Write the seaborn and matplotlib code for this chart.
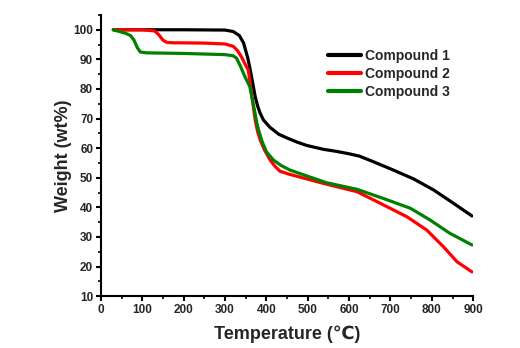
import numpy as np
import pandas as pd
import matplotlib
matplotlib.use("Agg")
import matplotlib.pyplot as plt
import seaborn as sns
from matplotlib.ticker import MultipleLocator

# -------- data --------
t1 = [30, 100, 200, 300, 320, 335, 345, 355, 361, 367, 373, 379, 385, 393, 409, 430, 449,
      475, 498, 538, 570, 600, 625, 659, 707, 756, 804, 852, 897]
w1 = [100, 100, 100, 99.9, 99.4, 98.0, 95.5, 90.5, 86.5, 82.0, 77.4, 74.2, 71.8, 69.5, 67.0,
      64.7, 63.5, 62.0, 60.9, 59.6, 58.9, 58.1, 57.3, 55.4, 52.6, 49.6, 45.9, 41.4, 37.1]

t2 = [30, 100, 130, 140, 150, 160, 175, 250, 300, 320, 330, 340, 350, 356, 361, 365, 369,
      373, 379, 385, 395, 409, 420, 433, 455, 482, 538, 619, 675, 740, 788, 828, 861, 897]
w2 = [100, 100, 99.6, 98.3, 96.5, 95.7, 95.6, 95.5, 95.2, 94.4, 93.0, 90.8, 88.0, 86.5, 82.0,
      77.4, 73.5, 69.5, 65.5, 62.8, 59.5, 56.0, 54.0, 52.2, 51.2, 50.2, 48.1, 45.3, 41.4,
      36.8, 32.3, 26.7, 21.6, 18.2]

t3 = [30, 45, 60, 72, 80, 88, 95, 110, 200, 300, 320, 328, 338, 348, 360, 368, 377, 381, 389,
      400, 417, 435, 457, 498, 546, 619, 683, 748, 796, 844, 897]
w3 = [100, 99.4, 98.8, 98.0, 96.5, 94.0, 92.5, 92.2, 92.0, 91.6, 91.2, 90.4, 87.5, 84.2, 80.8,
      75.2, 68.5, 66.2, 62.5, 58.8, 56.0, 54.2, 52.6, 50.6, 48.3, 46.1, 43.0, 39.7, 35.7,
      31.2, 27.3]

names = ["Compound 1", "Compound 2", "Compound 3"]
colors = ["black", "#ff0000", "#008000"]

# -------- style --------
sns.set_theme(style="ticks")
plt.rcParams["font.family"] = ["Liberation Sans", "DejaVu Sans"]
plt.rcParams["font.weight"] = "bold"

fig = plt.figure(figsize=(5.2, 3.48), dpi=100)
ax = fig.add_axes([0.194, 0.149, 0.716, 0.808])

for t, w, name, c in zip([t1, t2, t3], [w1, w2, w3], names, colors):
    sns.lineplot(x=t, y=w, color=c, label=name, lw=2.3, sort=False, ax=ax)

ax.set_xlim(0, 900)
ax.set_ylim(10, 105)
ax.xaxis.set_major_locator(MultipleLocator(100))
ax.xaxis.set_minor_locator(MultipleLocator(50))
ax.yaxis.set_major_locator(MultipleLocator(10))
ax.yaxis.set_minor_locator(MultipleLocator(5))
ax.set_yticks(range(10, 101, 10))

sns.despine(ax=ax)
for s in ["left", "bottom"]:
    ax.spines[s].set_linewidth(1.5)
    ax.spines[s].set_color("black")
ax.tick_params(which="major", length=3.5, width=1.5, labelsize=8.5, pad=2, color="black")
ax.tick_params(which="minor", length=2, width=1.2, color="black")
for lab in ax.get_xticklabels() + ax.get_yticklabels():
    lab.set_fontweight("bold")

ax.set_xlabel("Temperature (℃)", fontsize=13, fontweight="bold", labelpad=7)
ax.set_ylabel("Weight (wt%)", fontsize=13, fontweight="bold", labelpad=1)

leg = ax.legend(loc="upper left", bbox_to_anchor=(0.61, 0.88), frameon=False,
                borderpad=0, borderaxespad=0, handlelength=2.4, handletextpad=0.3,
                labelspacing=0.3, prop={"size": 10, "weight": "bold"})
for line in leg.get_lines():
    line.set_linewidth(3)

fig.savefig("out.png", dpi=100)
